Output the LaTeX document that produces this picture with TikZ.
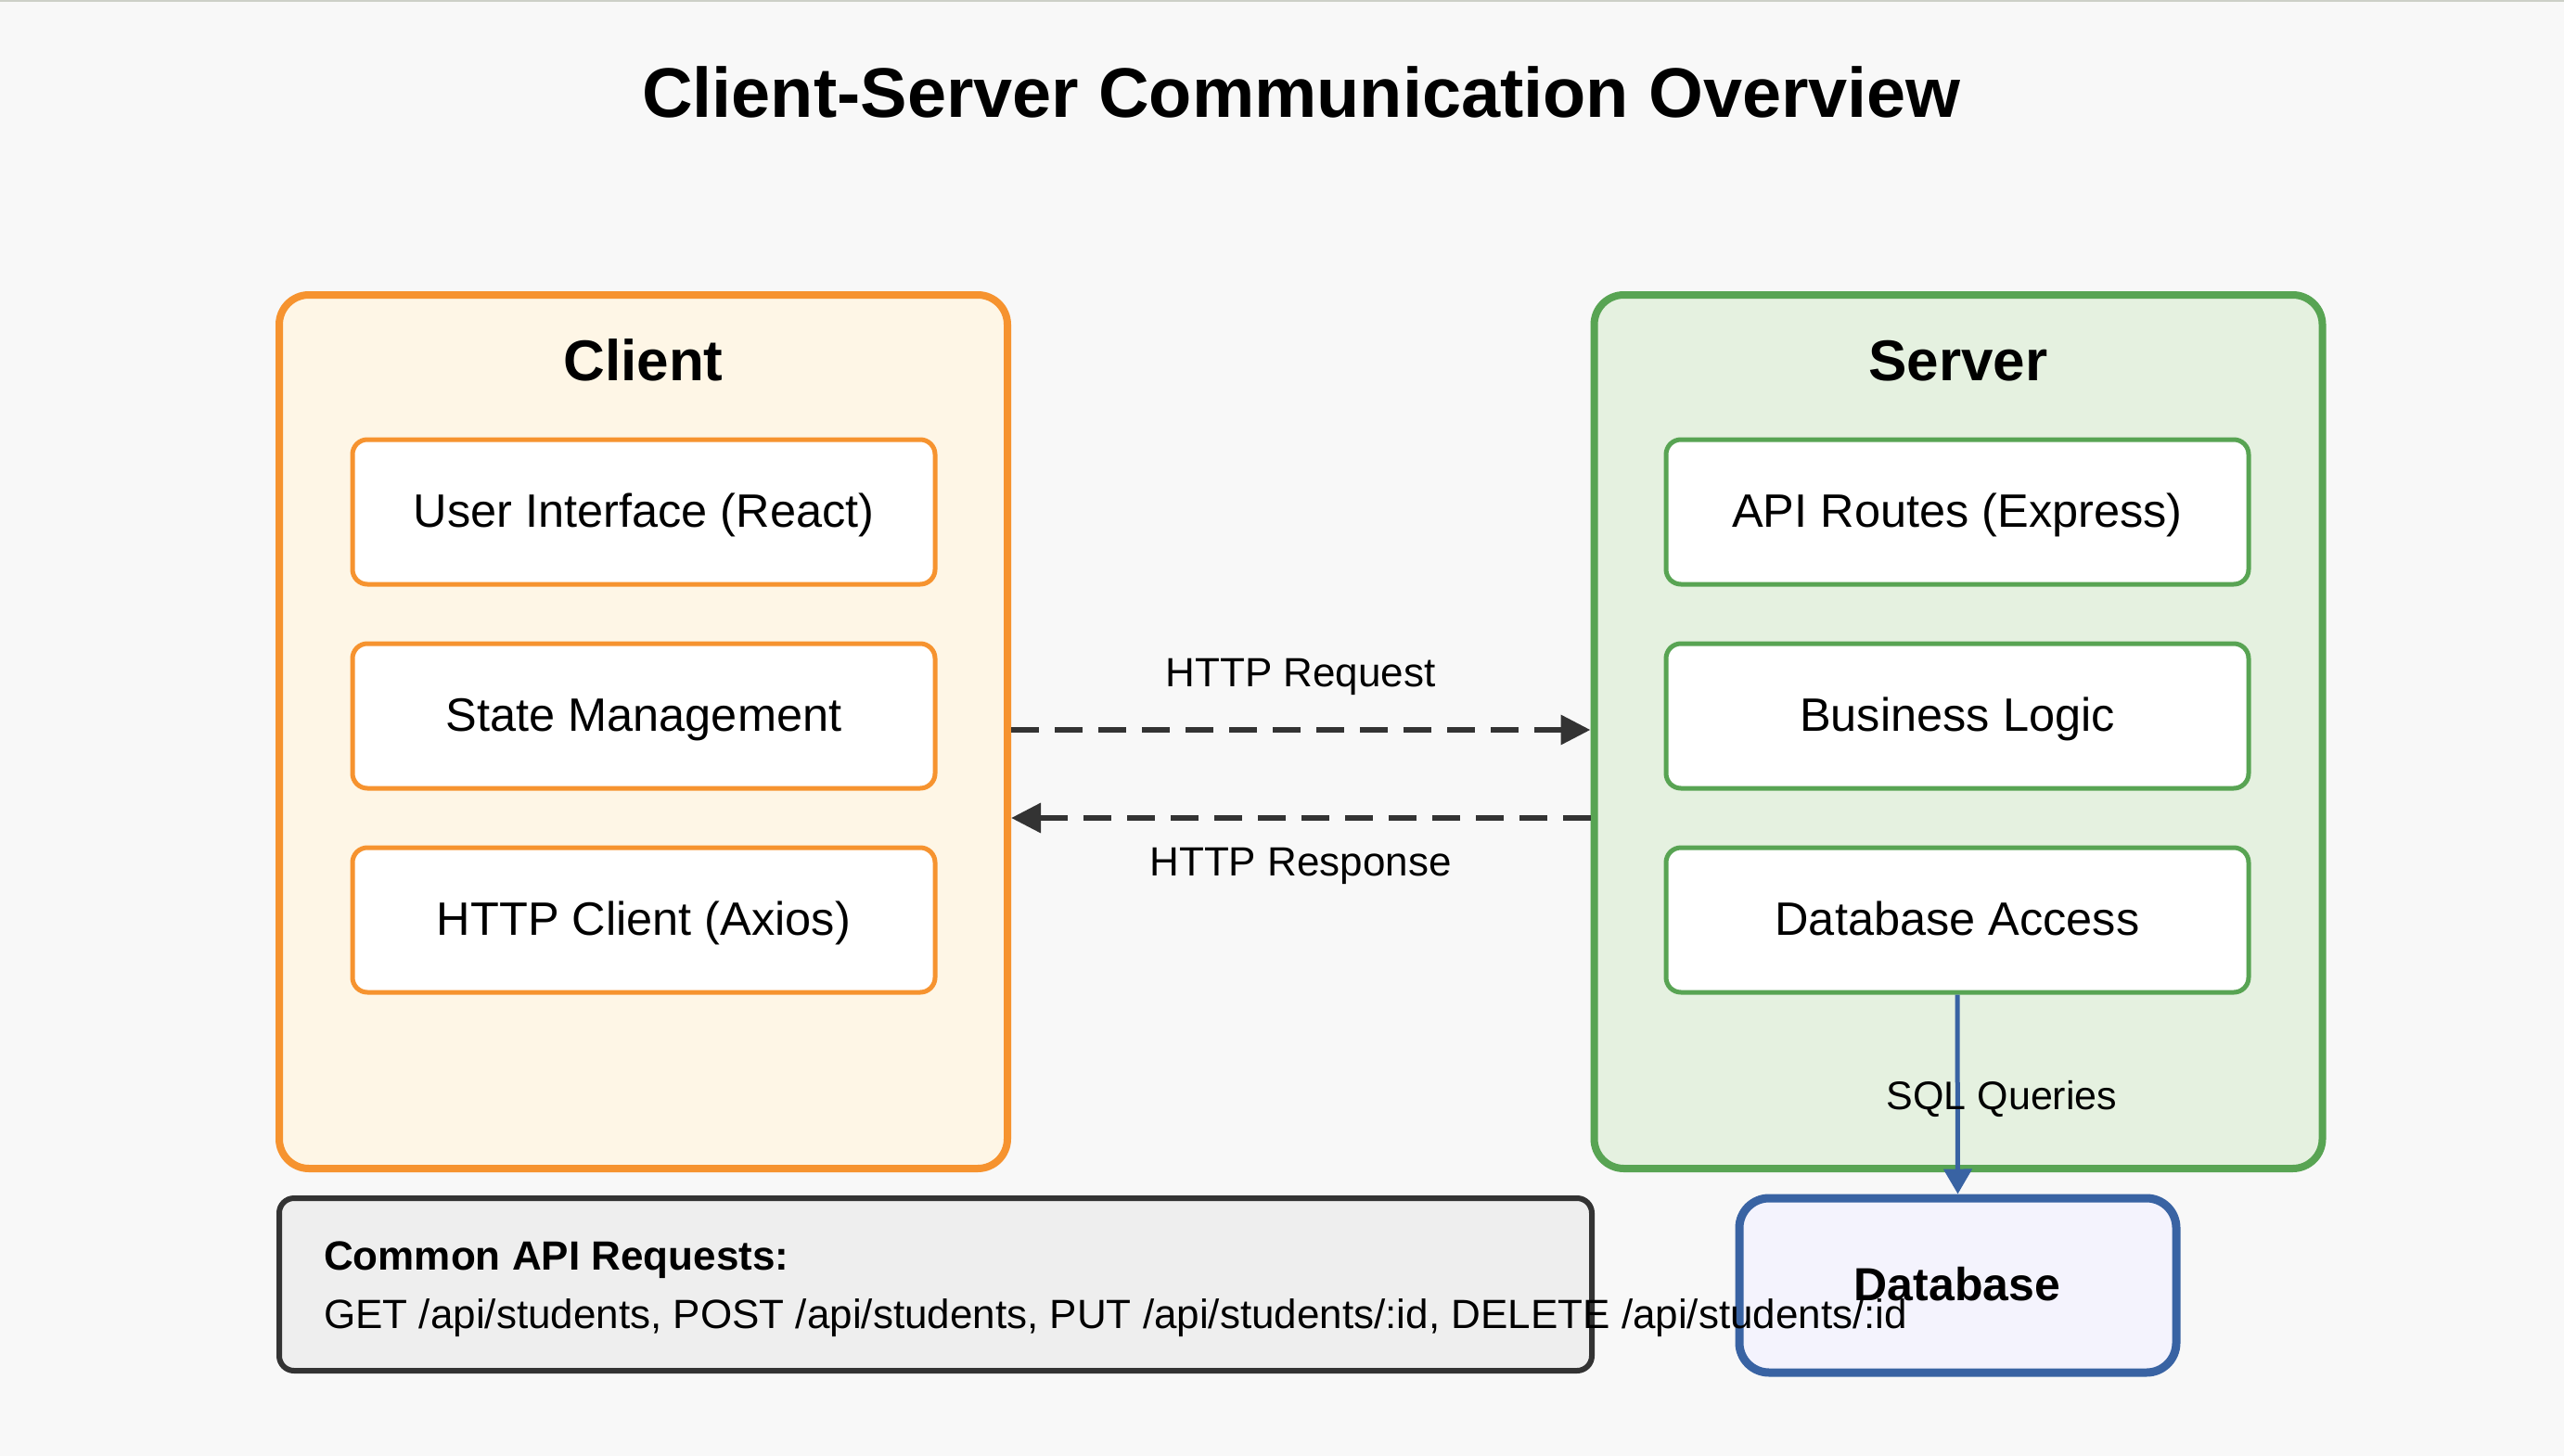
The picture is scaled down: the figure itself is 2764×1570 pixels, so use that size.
\documentclass[tikz,border=0pt]{standalone}
\usepackage{fontspec}
\setmainfont{Liberation Sans}
\usetikzlibrary{arrows.meta}
\definecolor{bgc}{HTML}{F8F8F8}
\definecolor{topline}{HTML}{CDD0C8}
\definecolor{orangeS}{HTML}{F6932F}
\definecolor{orangeF}{HTML}{FEF6E6}
\definecolor{greenS}{HTML}{58A453}
\definecolor{greenF}{HTML}{E5F1E0}
\definecolor{darkS}{HTML}{333333}
\definecolor{grayF}{HTML}{EEEEEE}
\definecolor{blueS}{HTML}{3963A3}
\definecolor{blueF}{HTML}{F4F3FD}
\begin{document}
\begin{tikzpicture}[x=1pt,y=-1pt,
  panel/.style={draw, line width=8pt, rounded corners=32pt, minimum width=785pt, minimum height=942pt, inner sep=0pt},
  part/.style={draw, fill=white, line width=5pt, rounded corners=16pt, minimum width=628pt, minimum height=156pt, inner sep=0pt},
  ptext/.style={anchor=base, inner sep=0pt, font=\fontsize{50.5}{60}\selectfont},
  ptitle/.style={anchor=base, inner sep=0pt, font=\fontsize{62}{74}\selectfont\bfseries},
  lbl/.style={anchor=base, inner sep=0pt, font=\fontsize{44}{52}\selectfont},
  httparrow/.style={draw=darkS, line width=6.5pt, dash pattern=on 30pt off 17pt, -{Triangle[length=32pt,width=31pt]}},
  sqlarrow/.style={draw=blueS, line width=5pt, -{Triangle[length=27pt,width=30pt]}}
]
\useasboundingbox (0,0) rectangle (2764,1570);
\fill[bgc] (0,0) rectangle (2764,1570);
\draw[topline, line width=2pt] (0,1) -- (2764,1);

\node[anchor=base, inner sep=0pt, font=\fontsize{75.7}{90}\selectfont\bfseries] (title) at (1403,127) {Client-Server Communication Overview};

% panels
\node[panel, draw=orangeS, fill=orangeF] (client) at (693.5,789) {};
\node[panel, draw=greenS, fill=greenF] (server) at (2111,789) {};
\node[ptitle] (clienttitle) at (693.5,410) {Client};
\node[ptitle] (servertitle) at (2111,410) {Server};

% client parts
\node[part, draw=orangeS] (ui) at (694,552) {};
\node[part, draw=orangeS] (state) at (694,772) {};
\node[part, draw=orangeS] (httpc) at (694,992) {};
\node[ptext] (uit) at (694,568) {User Interface (React)};
\node[ptext] (statet) at (694,788) {State Management};
\node[ptext] (httpct) at (694,1008) {HTTP Client (Axios)};

% server parts
\node[part, draw=greenS] (api) at (2110,552) {};
\node[part, draw=greenS] (logic) at (2110,772) {};
\node[part, draw=greenS] (dbacc) at (2110,992) {};
\node[ptext] (apit) at (2110,568) {API Routes (Express)};
\node[ptext] (logict) at (2110,788) {Business Logic};
\node[ptext] (dbacct) at (2110,1008) {Database Access};

% HTTP arrows
\draw[httparrow] (client.east |- 0,787) -- (server.west |- 0,787);
\draw[httparrow] (server.west |- 0,882) -- (client.east |- 0,882);
\node[lbl] (reqlbl) at (1402,740) {HTTP Request};
\node[lbl] (reslbl) at (1402,944) {HTTP Response};

% common requests box and database
\node[draw=darkS, fill=grayF, line width=6pt, rounded corners=16pt, minimum width=1415pt, minimum height=186pt, inner sep=0pt] (common) at (1008.5,1385) {};
\node[draw=blueS, fill=blueF, line width=9pt, rounded corners=32pt, minimum width=471pt, minimum height=188pt, inner sep=0pt] (db) at (2110.5,1386) {};

\draw[sqlarrow] (dbacc.south) -- (db.north);
\node[anchor=base, inner sep=0pt, font=\fontsize{43}{52}\selectfont] (sqllbl) at (2158,1196) {SQL Queries};

\node[anchor=base west, inner sep=0pt, font=\fontsize{44}{52}\selectfont\bfseries] (commonhead) at (349,1369) {Common API Requests:};
\node[anchor=base west, inner sep=0pt, font=\fontsize{44}{52}\selectfont] (commonlist) at (349,1432) {GET /api/students, POST /api/students, PUT /api/students/:id, DELETE /api/students/:id};
\node[anchor=base, inner sep=0pt, font=\fontsize{50}{60}\selectfont\bfseries] (dbt) at (2110,1402) {Database};
\end{tikzpicture}
\end{document}
